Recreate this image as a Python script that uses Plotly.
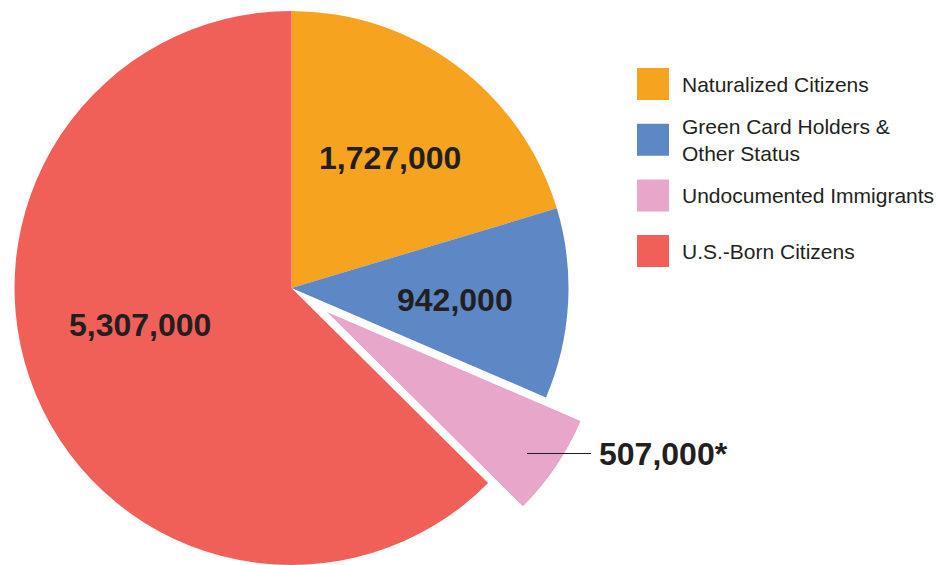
import math
import plotly.graph_objects as go

# ---------------- data ----------------
categories = ["Naturalized Citizens", "Green Card Holders & Other Status",
              "Undocumented Immigrants", "U.S.-Born Citizens"]
legend_text = ["Naturalized Citizens", "Green Card Holders &<br>Other Status",
               "Undocumented Immigrants", "U.S.-Born Citizens"]
values = [1727000, 942000, 507000, 5307000]
footnote_marks = ["", "", "*", ""]

# ---------------- styles / layout ----------------
colors = ["#F6A420", "#5E87C5", "#E8A6CB", "#F16058"]
TEXT = "#231F20"
FONT = "Liberation Sans, Arial, Helvetica, sans-serif"
W, H = 950, 565
CX, CY, R = 291.5, 288.0, 277.0      # pie centre / radius in px
PULLED = 2                            # exploded slice index
PULL_PX = 42.0                        # explode distance in px
LABEL_FONT = 32
LEGEND_FONT = 21
# label anchor points (px) for the slice value labels
label_pos = [(390, 158), (455, 300), None, (139.5, 325)]
leader_head = (527, 453.5)
leader_text_left = 599
# legend geometry (px)
LEG_SQ_X, LEG_SQ = 637, 32
LEG_TXT_X = 680
LEG_Y0, LEG_DY = 84, 55.7


def px(x, y):
    return x / W, 1 - y / H


fig = go.Figure()

# main pie (exploded slice left transparent, drawn separately below)
pie_colors = [c if i != PULLED else "rgba(0,0,0,0)" for i, c in enumerate(colors)]
fig.add_trace(go.Pie(
    labels=categories, values=values, sort=False, direction="clockwise", rotation=0,
    marker=dict(colors=pie_colors, line=dict(width=0)),
    textinfo="none", hoverinfo="label+value", showlegend=False,
    domain=dict(x=[max(0, (CX - R) / W), min(1, (CX + R) / W)],
                y=[max(0, (H - CY - R) / H), min(1, (H - CY + R) / H)]),
))

# exploded slice as a barpolar wedge in a sector-limited polar subplot
total = sum(values)
start = 360.0 * sum(values[:PULLED]) / total
span = 360.0 * values[PULLED] / total
mid = start + span / 2
apx = CX + PULL_PX * math.sin(math.radians(mid))
apy = CY - PULL_PX * math.cos(math.radians(mid))
s0, s1 = 90 - (start + span), 90 - start
pts = [(0.0, 0.0)]
for a in (s0, s1):
    pts.append((math.cos(math.radians(a)), math.sin(math.radians(a))))
for k in range(math.ceil(s0 / 90), math.floor(s1 / 90) + 1):
    a = k * 90
    pts.append((math.cos(math.radians(a)), math.sin(math.radians(a))))
xmin = min(p[0] for p in pts); xmax = max(p[0] for p in pts)
ymin = min(p[1] for p in pts); ymax = max(p[1] for p in pts)
dom_x = [(apx + R * xmin) / W, (apx + R * xmax) / W]
dom_y = [(H - (apy - R * ymin)) / H, (H - (apy - R * ymax)) / H]

fig.add_trace(go.Barpolar(
    r=[1], theta=[mid], width=[span],
    marker=dict(color=colors[PULLED], line=dict(width=0)),
    name=categories[PULLED], hoverinfo="name", showlegend=False, subplot="polar",
))

annotations = []
# value labels inside slices
for i, v in enumerate(values):
    if label_pos[i] is None:
        continue
    x, y = px(*label_pos[i])
    annotations.append(dict(
        x=x, y=y, xref="paper", yref="paper", showarrow=False,
        text="<b>%s%s</b>" % (f"{v:,}", footnote_marks[i]),
        font=dict(family=FONT, size=LABEL_FONT, color=TEXT),
        xanchor="center", yanchor="middle"))

# exploded slice label with leader line
lbl = f"{values[PULLED]:,}" + footnote_marks[PULLED]
approx_w = LABEL_FONT * (0.556 * sum(ch.isdigit() for ch in lbl) + 0.278 * lbl.count(",") + 0.389 * lbl.count("*"))
hx, hy = px(*leader_head)
annotations.append(dict(
    x=hx, y=hy, xref="paper", yref="paper", showarrow=True,
    ax=leader_text_left + approx_w / 2 - leader_head[0], ay=0, axref="pixel", ayref="pixel",
    arrowhead=0, arrowwidth=1, arrowcolor=TEXT, standoff=0, borderpad=7,
    text="<b>%s</b>" % lbl,
    font=dict(family=FONT, size=LABEL_FONT, color=TEXT)))

# custom legend
shapes = []
for i, t in enumerate(legend_text):
    yc = LEG_Y0 + i * LEG_DY
    x0, y0 = px(LEG_SQ_X, yc + LEG_SQ / 2)
    x1, y1 = px(LEG_SQ_X + LEG_SQ, yc - LEG_SQ / 2)
    shapes.append(dict(type="rect", xref="paper", yref="paper", x0=x0, y0=y0, x1=x1, y1=y1,
                       fillcolor=colors[i], line=dict(width=0)))
    tx, ty = px(LEG_TXT_X, yc)
    annotations.append(dict(
        x=tx, y=ty, xref="paper", yref="paper", showarrow=False, text=t,
        align="left", xanchor="left", yanchor="middle",
        font=dict(family=FONT, size=LEGEND_FONT, color=TEXT)))

fig.update_layout(
    width=W, height=H, margin=dict(l=0, r=0, t=0, b=0),
    paper_bgcolor="white", plot_bgcolor="white", showlegend=False,
    polar=dict(
        domain=dict(x=dom_x, y=dom_y), sector=[s0, s1], hole=0,
        bgcolor="rgba(0,0,0,0)",
        radialaxis=dict(range=[0, 1], visible=False, showgrid=False, showline=False),
        angularaxis=dict(direction="clockwise", rotation=90, visible=False,
                         showgrid=False, showline=False),
    ),
    annotations=annotations, shapes=shapes,
)

fig.write_html("out.html")
